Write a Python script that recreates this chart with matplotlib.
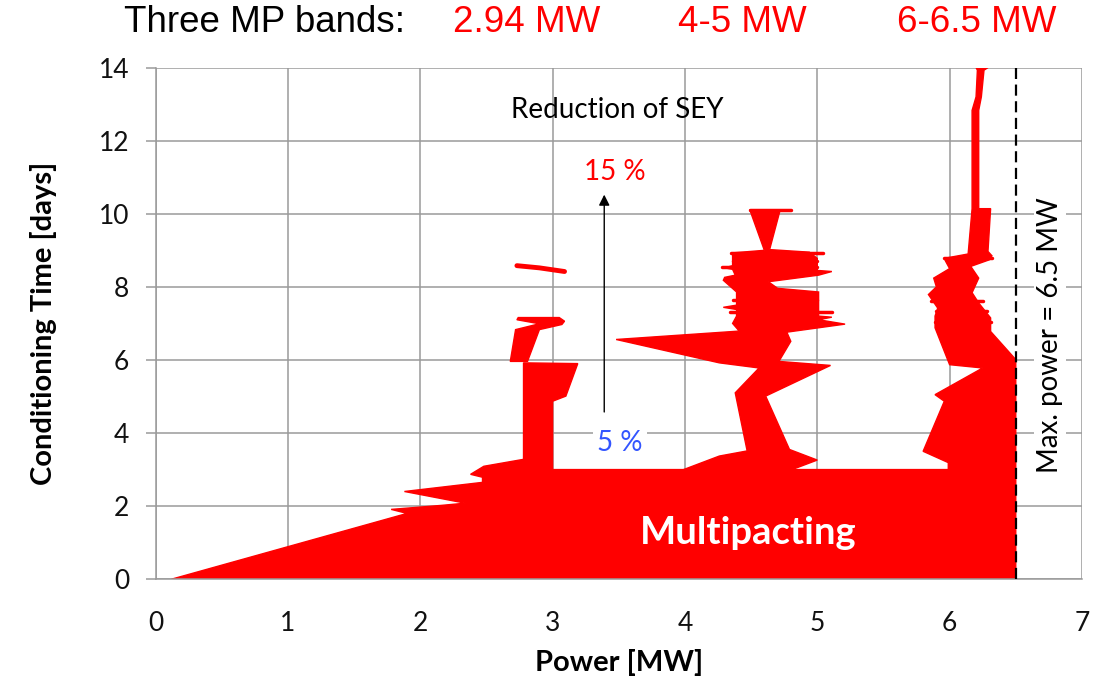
import matplotlib
matplotlib.use("Agg")
import matplotlib.pyplot as plt

RED = "#ff0000"
GRID = "#9a9a9a"

# outline of the multipacting region below ~3 days (power [MW], time [days])
base_p = [0.12, 6.50, 6.50, 2.78, 2.78, 2.48, 2.38, 2.47, 2.47, 1.88, 2.34, 2.16, 1.78, 1.90]
base_d = [0.00, 0.00, 3.00, 3.00, 3.28, 3.09, 2.87, 2.79, 2.65, 2.40, 2.08, 2.02, 1.91, 1.80]

# band around 2.94 MW
band1_low_p = [2.78, 2.78, 3.19, 3.10, 3.00, 3.00]
band1_low_d = [3.00, 5.92, 5.90, 5.01, 4.87, 3.00]
band1_mid_p = [2.68, 2.72, 2.90, 2.73, 2.74, 3.05, 3.09, 3.07, 2.90, 2.81]
band1_mid_d = [5.96, 6.83, 6.99, 7.10, 7.16, 7.16, 7.06, 6.97, 6.83, 5.96]
band1_top_p = [2.73, 2.90, 3.09]
band1_top_d = [8.58, 8.52, 8.42]

# band 4-5 MW
band2_p = [3.99, 4.26, 4.47, 4.38, 4.56, 4.26, 3.48, 4.41, 4.36, 4.39, 4.39, 4.29, 4.39,
           4.39, 4.29, 4.30, 4.38, 4.36, 4.30, 4.36, 4.36, 4.60, 4.49, 4.72, 4.64, 4.94,
           5.00, 5.00, 5.11, 5.01, 4.63, 4.70, 5.01, 5.01, 5.11, 5.01, 5.21, 4.77, 4.80,
           4.71, 5.10, 4.61, 4.79, 5.00, 4.81]
band2_d = [3.00, 3.37, 3.51, 5.10, 5.78, 5.92, 6.56, 6.79, 7.00, 7.20, 7.38, 7.44, 7.50,
           7.86, 8.18, 8.26, 8.32, 8.48, 8.52, 8.58, 8.93, 9.00, 10.11, 10.11, 9.02, 8.95,
           8.78, 8.45, 8.42, 8.32, 8.14, 7.96, 7.86, 7.20, 7.17, 7.10, 6.98, 6.76, 6.51,
           5.96, 5.85, 5.01, 3.55, 3.26, 3.00]
band2_streaks = [
    ([4.49, 4.80], [10.11, 10.11]),
    ([4.35, 5.04], [8.92, 8.92]),
    ([4.36, 5.00], [8.70, 8.70]),
    ([4.28, 5.00], [8.55, 8.55]),
    ([4.36, 5.00], [7.65, 7.65]),
    ([4.34, 5.11], [7.30, 7.30]),
]

# band 6-6.5 MW
band3_p = [5.99, 5.99, 5.80, 5.96, 5.89, 6.25, 6.00, 5.89, 5.89, 5.91, 5.84, 5.90, 5.88,
           6.00, 5.97, 5.96, 6.14, 6.17, 6.17, 6.20, 6.21, 6.20, 6.29, 6.26, 6.24, 6.22,
           6.22, 6.31, 6.29, 6.32, 6.30, 6.16, 6.22, 6.17, 6.22, 6.31, 6.31, 6.50, 6.50]
band3_d = [3.00, 3.19, 3.50, 4.87, 5.05, 5.78, 5.87, 6.88, 7.20, 7.42, 7.79, 8.00, 8.24,
           8.50, 8.70, 8.78, 8.90, 10.14, 12.83, 13.20, 13.93, 14.00, 14.00, 13.93, 13.20, 12.83,
           10.14, 10.14, 8.97, 8.85, 8.74, 8.56, 8.24, 7.84, 7.56, 7.15, 6.78, 6.01, 3.00]
band3_streaks = [
    ([5.96, 6.32], [8.78, 8.78]),
    ([5.89, 6.31], [7.05, 7.05]),
    ([5.86, 6.25], [7.60, 7.60]),
    ([5.90, 6.28], [7.35, 7.35]),
]

max_power = 6.5
xticks = [0, 1, 2, 3, 4, 5, 6, 7]
yticks = [0, 2, 4, 6, 8, 10, 12, 14]

fig = plt.figure(figsize=(11.04, 6.83), dpi=100)
ax = fig.add_axes([0.141, 0.152, 0.839, 0.749])

for p, d in [(base_p, base_d), (band1_low_p, band1_low_d), (band1_mid_p, band1_mid_d),
             (band2_p, band2_d), (band3_p, band3_d)]:
    ax.fill(p, d, color=RED, lw=1.0, zorder=2)

ax.plot(band1_top_p, band1_top_d, color=RED, lw=3.5, solid_capstyle="round", zorder=2)
for p, d in band2_streaks + band3_streaks:
    ax.plot(p, d, color=RED, lw=2.5, solid_capstyle="round", zorder=2)

ax.plot([max_power, max_power], [0, 14], color="black", lw=1.6,
        linestyle=(0, (5, 2.5)), zorder=3)

ax.set_xlim(0, 7)
ax.set_ylim(0, 14)
ax.set_xticks(xticks)
ax.set_yticks(yticks)
ax.grid(True, color=GRID, lw=1.1)
ax.set_axisbelow(True)
for s in ["top", "right"]:
    ax.spines[s].set_visible(False)
for s in ["left", "bottom"]:
    ax.spines[s].set_color(GRID)
    ax.spines[s].set_linewidth(1.1)
ax.tick_params(axis="x", length=0, pad=23, labelsize=19, labelcolor="#111111")
ax.tick_params(axis="y", length=7, color=GRID, width=1.1, pad=12, labelsize=19,
               labelcolor="#111111")
for lab in ax.get_xticklabels() + ax.get_yticklabels():
    lab.set_family("Lato")

ax.set_xlabel("Power [MW]", family="Lato", fontweight="bold", fontsize=21, labelpad=9)
ax.set_ylabel("Conditioning Time [days]", family="Lato", fontweight="bold",
              fontsize=21, labelpad=30)

ax.text(3.49, 12.83, "Reduction of SEY", family="Lato", fontsize=20,
        ha="center", va="center")
ax.text(3.47, 11.13, "15 %", family="Lato", fontsize=20, color=RED,
        ha="center", va="center")
ax.text(3.51, 3.73, "5 %", family="Lato", fontsize=20, color="#3355ff",
        ha="center", va="center",
        bbox=dict(facecolor="white", edgecolor="none", pad=3))
ax.annotate("", xy=(3.39, 10.6), xytext=(3.39, 4.5),
            arrowprops=dict(arrowstyle="-|>", color="black", lw=1,
                            mutation_scale=16))
ax.text(4.48, 1.27, "Multipacting", family="Lato", fontweight="bold",
        fontsize=27.5, color="white", ha="center", va="center", zorder=4)
ax.text(6.76, 6.69, "Max. power = 6.5 MW", family="Lato", fontsize=20,
        rotation=90, ha="center", va="center",
        bbox=dict(facecolor="white", edgecolor="none", pad=2))

fig.text(264 / 1104, 1 - 22 / 683, "Three MP bands:", family="Liberation Sans",
         fontsize=26.5, ha="center", va="center")
for x, s in [(527, "2.94 MW"), (742, "4-5 MW"), (977, "6-6.5 MW")]:
    fig.text(x / 1104, 1 - 22 / 683, s, family="Liberation Sans", fontsize=26.5,
             color=RED, ha="center", va="center")

fig.savefig("out.png", dpi=100)
